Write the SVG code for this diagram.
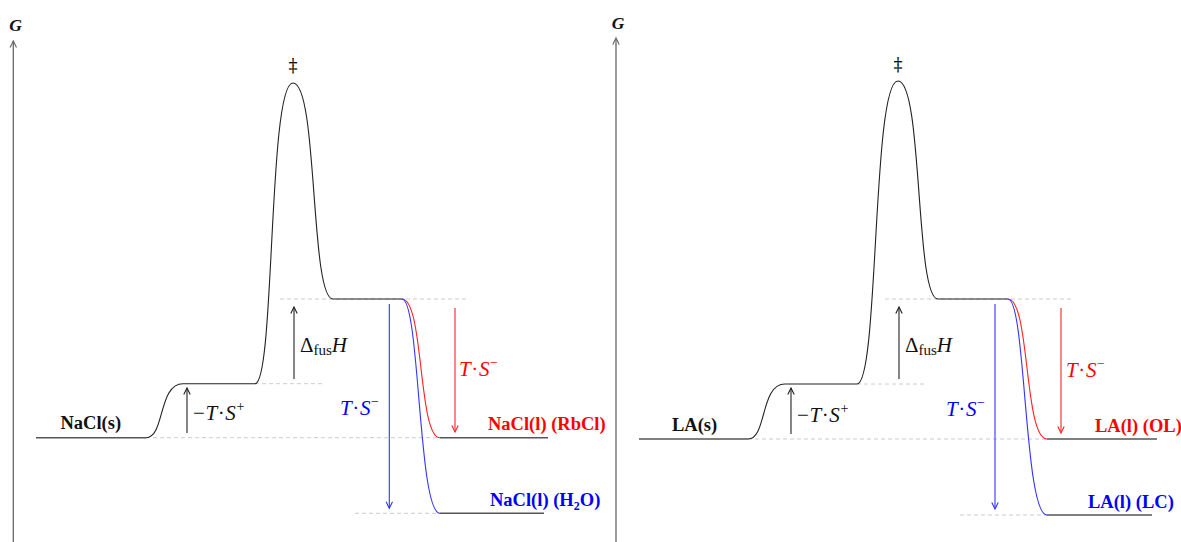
<svg xmlns="http://www.w3.org/2000/svg" width="1181" height="542" viewBox="0 0 1181 542">
<style>
.curve{fill:none;stroke:#222;stroke-width:1.1}
.level{fill:none;stroke:#555;stroke-width:1.4}
.axis{fill:none;stroke:#666;stroke-width:1.3}
.dash{fill:none;stroke:#ccc;stroke-width:1;stroke-dasharray:4 3}
.red{fill:none;stroke:#f22;stroke-width:1.1}
.blue{fill:none;stroke:#33f;stroke-width:1.1}
.arr{stroke:#222;stroke-width:1.1}
.arr-r{stroke:#f22;stroke-width:1.1}
.arr-b{stroke:#33f;stroke-width:1.1}
text{font-family:"Liberation Serif",serif;fill:#111}
.lab{font-weight:bold;font-size:18.5px}
.math{font-size:21px}
.it{font-style:italic}
.g{font-weight:bold;font-style:italic;font-size:17.5px}
.dd{font-size:18px;font-family:"DejaVu Serif",serif}
</style>
<defs>
<marker id="hk" markerUnits="userSpaceOnUse" markerWidth="14" markerHeight="14" refX="0" refY="0" viewBox="-8 -7 10 14" orient="auto"><path d="M-6.5,-3.2 L0,0 L-6.5,3.2" fill="none" stroke="#222" stroke-width="1.1"/></marker>
<marker id="hk-grey" markerUnits="userSpaceOnUse" markerWidth="14" markerHeight="14" refX="0" refY="0" viewBox="-8 -7 10 14" orient="auto"><path d="M-6.5,-3.2 L0,0 L-6.5,3.2" fill="none" stroke="#666" stroke-width="1.1"/></marker>
<marker id="hk-r" markerUnits="userSpaceOnUse" markerWidth="14" markerHeight="14" refX="0" refY="0" viewBox="-8 -7 10 14" orient="auto"><path d="M-6.5,-3.2 L0,0 L-6.5,3.2" fill="none" stroke="#f22" stroke-width="1.1"/></marker>
<marker id="hk-b" markerUnits="userSpaceOnUse" markerWidth="14" markerHeight="14" refX="0" refY="0" viewBox="-8 -7 10 14" orient="auto"><path d="M-6.5,-3.2 L0,0 L-6.5,3.2" fill="none" stroke="#33f" stroke-width="1.1"/></marker>
</defs>
<rect width="1181" height="542" fill="#fff"/>

<!-- LEFT PANEL -->
<g id="left-axis">
<line class="axis" x1="13.3" y1="542" x2="13.3" y2="41" marker-end="url(#hk-grey)"/>
<text class="g" x="15.5" y="30.5" text-anchor="middle">G</text>
</g>
<g id="left-guides">
<line class="dash" x1="146" y1="437.7" x2="440" y2="437.7"/>
<line class="dash" x1="255" y1="383.7" x2="322" y2="383.7"/>
<line class="dash" x1="280" y1="299" x2="466" y2="299"/>
<line class="dash" x1="355" y1="513.3" x2="440" y2="513.3"/>
</g>
<g id="left-profile">
<path class="level" d="M36,437.7 H146"/>
<path class="curve" d="M146,437.7 C165,437.7 158,383.7 183,383.7 H255 C275,383.7 268,83 293,83 C318,83 310,299 333,299 H402"/>
<path class="red" d="M402,299 C424,299 418,437.7 440,437.7"/>
<path class="blue" d="M402,299 C420,299 418,513.3 440,513.3"/>
<path class="level" d="M440,437.7 H548"/>
<path class="level" d="M440,513.3 H544"/>
</g>
<g id="left-ts-node"><text class="dd" x="293" y="72" text-anchor="middle">‡</text></g>
<g id="left-solid"><text class="lab" x="60.5" y="429">NaCl(s)</text></g>
<g id="left-rbcl"><text class="lab" x="488" y="430" style="fill:#f00">NaCl(l) (RbCl)</text></g>
<g id="left-h2o"><text class="lab" x="490" y="506" style="fill:#00f">NaCl(l) (H<tspan font-size="12" dy="4">2</tspan><tspan dy="-4">O</tspan>)</text></g>
<g id="left-labels">
<text class="math" x="193" y="420" letter-spacing="0.6">−<tspan class="it">T</tspan>·<tspan class="it">S</tspan><tspan font-size="14" dy="-9">+</tspan></text>
<text class="math" x="300" y="351.7">Δ<tspan font-size="15" dy="3.5">fus</tspan><tspan class="it" dy="-3.5">H</tspan></text>
<text class="math it" x="340" y="415" style="fill:#00f" letter-spacing="0.6">T<tspan font-style="normal">·</tspan>S<tspan font-style="normal" font-size="14" dy="-9">−</tspan></text>
<text class="math it" x="459" y="376" style="fill:#f00" letter-spacing="0.6">T<tspan font-style="normal">·</tspan>S<tspan font-style="normal" font-size="14" dy="-9">−</tspan></text>
</g>

<!-- RIGHT PANEL -->
<g id="right-axis">
<line class="axis" x1="616" y1="542" x2="616" y2="38" marker-end="url(#hk-grey)"/>
<text class="g" x="618" y="28.5" text-anchor="middle">G</text>
</g>
<g id="right-guides">
<line class="dash" x1="748" y1="439" x2="1047" y2="439"/>
<line class="dash" x1="857" y1="384" x2="927" y2="384"/>
<line class="dash" x1="885" y1="299" x2="1073" y2="299"/>
<line class="dash" x1="960" y1="515" x2="1047" y2="515"/>
</g>
<g id="right-profile">
<path class="level" d="M639,439 H748"/>
<path class="curve" d="M748,439 C767,439 760,384 785,384 H857 C879,384 872,81 898,81 C923,81 915,299 938,299 H1008"/>
<path class="red" d="M1008,299 C1030,299 1024,439 1047,439"/>
<path class="blue" d="M1008,299 C1026,299 1024,515 1047,515"/>
<path class="level" d="M1047,439 H1157"/>
<path class="level" d="M1047,515 H1152"/>
</g>
<g id="right-ts-node"><text class="dd" x="898" y="71" text-anchor="middle">‡</text></g>
<g id="right-solid"><text class="lab" x="672" y="431">LA(s)</text></g>
<g id="right-ol"><text class="lab" x="1095" y="431.5" style="fill:#f00">LA(l) (OL)</text></g>
<g id="right-lc"><text class="lab" x="1088" y="508" style="fill:#00f">LA(l) (LC)</text></g>
<g id="right-labels">
<text class="math" x="797" y="421.7" letter-spacing="0.6">−<tspan class="it">T</tspan>·<tspan class="it">S</tspan><tspan font-size="14" dy="-9">+</tspan></text>
<text class="math" x="905" y="351.7">Δ<tspan font-size="15" dy="3.5">fus</tspan><tspan class="it" dy="-3.5">H</tspan></text>
<text class="math it" x="946" y="416" style="fill:#00f" letter-spacing="0.6">T<tspan font-style="normal">·</tspan>S<tspan font-style="normal" font-size="14" dy="-9">−</tspan></text>
<text class="math it" x="1066" y="376.7" style="fill:#f00" letter-spacing="0.6">T<tspan font-style="normal">·</tspan>S<tspan font-style="normal" font-size="14" dy="-9">−</tspan></text>
</g>

<g id="connectors">
<line class="arr" x1="187" y1="433" x2="187" y2="388" marker-end="url(#hk)"/>
<line class="arr" x1="294" y1="379" x2="294" y2="307" marker-end="url(#hk)"/>
<line class="arr-b" x1="389.3" y1="304" x2="389.3" y2="508.3" marker-end="url(#hk-b)"/>
<line class="arr-r" x1="455" y1="308" x2="455" y2="432" marker-end="url(#hk-r)"/>
<line class="arr" x1="791" y1="434" x2="791" y2="388" marker-end="url(#hk)"/>
<line class="arr" x1="899" y1="379" x2="899" y2="307" marker-end="url(#hk)"/>
<line class="arr-b" x1="995" y1="304" x2="995" y2="509" marker-end="url(#hk-b)"/>
<line class="arr-r" x1="1061" y1="308" x2="1061" y2="433" marker-end="url(#hk-r)"/>
</g>
</svg>
